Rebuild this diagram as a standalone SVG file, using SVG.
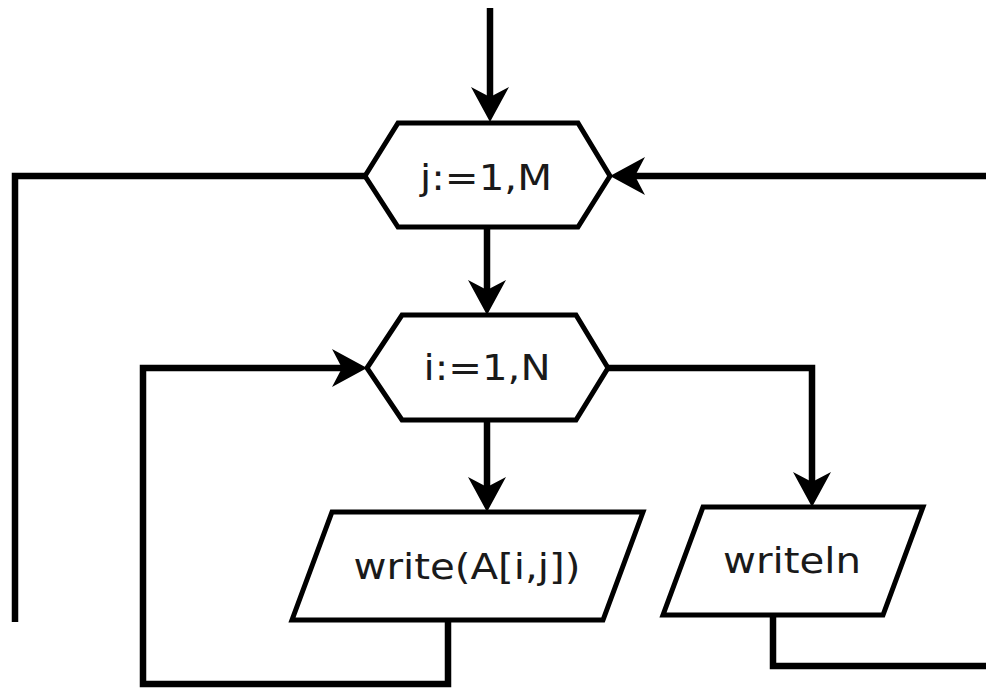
<svg xmlns="http://www.w3.org/2000/svg" width="986" height="688" viewBox="0 0 986 688">
<style>
.shape{fill:#fff;stroke:#000;stroke-width:5;stroke-linejoin:miter}
.line{fill:none;stroke:#000;stroke-width:6.5;stroke-linejoin:miter}
.lbl{font-family:"DejaVu Sans",sans-serif;font-size:35px;fill:#1a1a1a;text-anchor:middle}
</style>
<defs>
<marker id="arr" viewBox="-37 -21 40 42" refX="-22" refY="0" markerWidth="40" markerHeight="42" markerUnits="userSpaceOnUse" orient="auto">
<path d="M0,0 L-35,-19 L-25,0 L-35,19 Z" fill="#000"/>
</marker>
</defs>
<rect width="986" height="688" fill="#fff"/>
<g id="connectors">
<path class="line" d="M490,8 L490,100" marker-end="url(#arr)"/>
<path class="line" d="M365,176 L15,176 L15,622"/>
<path class="line" d="M986,176 L632,176" marker-end="url(#arr)"/>
<path class="line" d="M487,227 L487,293" marker-end="url(#arr)"/>
<path class="line" d="M448,620 L448,684 L143,684 L143,368 L345,368" marker-end="url(#arr)"/>
<path class="line" d="M487,420 L487,490" marker-end="url(#arr)"/>
<path class="line" d="M608,368 L812,368 L812,485" marker-end="url(#arr)"/>
<path class="line" d="M773,615 L773,666 L986,666"/>
</g>
<g id="loop-j">
<polygon class="shape" points="365,176 398,123 578,123 610,176 578,227 398,227"/>
<text class="lbl" x="486" y="190" textLength="132" lengthAdjust="spacingAndGlyphs">j:=1,M</text>
</g>
<g id="loop-i">
<polygon class="shape" points="367,368 402,315 576,315 608,368 576,420 402,420"/>
<text class="lbl" x="487" y="380" textLength="127" lengthAdjust="spacingAndGlyphs">i:=1,N</text>
</g>
<g id="write-a">
<polygon class="shape" points="332,512 643,512 603,620 292,620"/>
<text class="lbl" x="467" y="579" textLength="227" lengthAdjust="spacingAndGlyphs">write(A[i,j])</text>
</g>
<g id="writeln">
<polygon class="shape" points="703,507 923,507 883,615 663,615"/>
<text class="lbl" x="792" y="573" textLength="138" lengthAdjust="spacingAndGlyphs">writeln</text>
</g>
</svg>
